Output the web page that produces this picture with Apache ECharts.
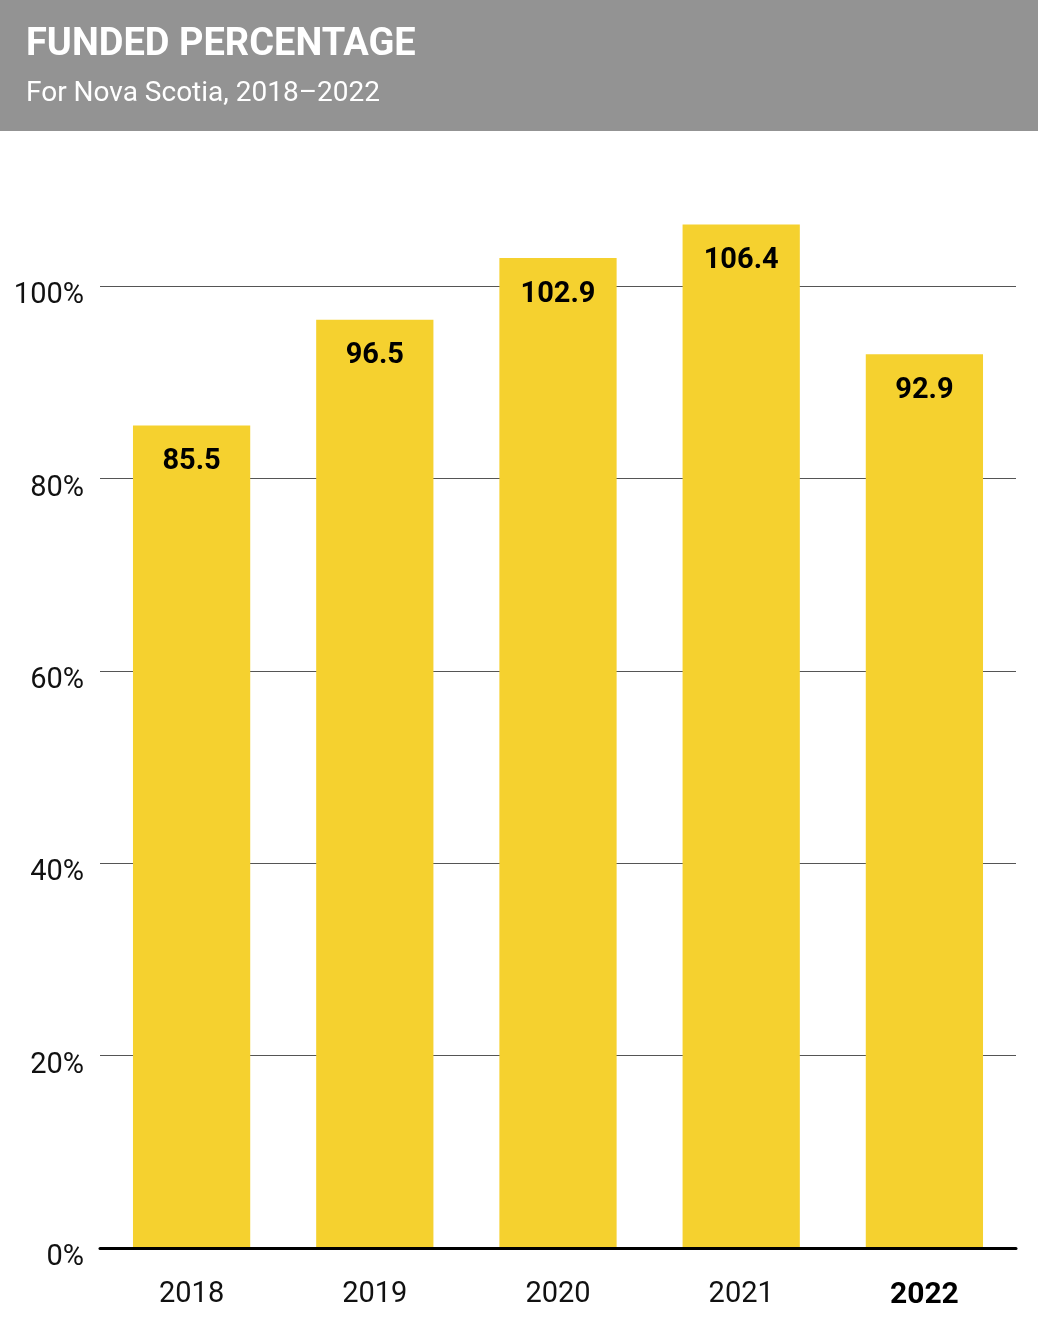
<!DOCTYPE html>
<html>
<head>
<meta charset="utf-8">
<style>
  html, body { margin: 0; padding: 0; background: #fff; }
  #chart { width: 1038px; height: 1318px; }
</style>
<script src="https://cdn.jsdelivr.net/npm/echarts@6/dist/echarts.min.js"></script>
</head>
<body>
<div id="chart"></div>
<script>
const categories = ['2018', '2019', '2020', '2021', '2022'];
const fundedValues = [85.5, 96.5, 102.9, 106.4, 92.9];
const yTicks = [0, 20, 40, 60, 80, 100];
const titleText = 'FUNDED PERCENTAGE';
const subtitleText = 'For Nova Scotia, 2018\u20132022';

const FONT = "'Roboto', 'Liberation Sans', sans-serif";
const chart = echarts.init(document.getElementById('chart'), null, { renderer: 'canvas' });

chart.setOption({
  animation: false,
  backgroundColor: '#ffffff',
  graphic: [
    { type: 'rect', z: 100, shape: { x: 0, y: 0, width: 1038, height: 131 }, style: { fill: '#939393' } },
    { type: 'text', z: 101, left: 26, top: 26, style: { text: titleText, fill: '#ffffff', font: "bold 38px 'Roboto', sans-serif" } },
    { type: 'text', z: 101, left: 26, top: 80, style: { text: subtitleText, fill: '#ffffff', font: "28px 'Roboto', sans-serif" } }
  ],
  grid: { left: 100, right: 22, top: 93.6, bottom: 70, containLabel: false },
  xAxis: {
    type: 'category',
    data: categories,
    z: 5,
    axisLine: { show: true, lineStyle: { color: '#000', width: 3 } },
    axisTick: { show: false },
    axisLabel: {
      margin: 32,
      color: '#111',
      fontSize: 29,
      fontFamily: 'Roboto',
      formatter: function (v, i) { return i === categories.length - 1 ? '{b|' + v + '}' : v; },
      rich: { b: { fontWeight: 'bold', fontSize: 30, color: '#000', fontFamily: 'Roboto' } }
    }
  },
  yAxis: {
    type: 'value',
    min: 0,
    max: 120,
    interval: 20,
    axisLine: { show: false },
    axisTick: { show: false },
    axisLabel: {
      margin: 16,
      color: '#111',
      fontSize: 29,
      fontFamily: 'Roboto',
      verticalAlign: 'top',
      lineHeight: 29,
      formatter: function (v) { return yTicks.indexOf(v) >= 0 ? '{a|' + v + '%}' : ''; },
      rich: { a: { fontSize: 29, fontFamily: 'Roboto', color: '#111', lineHeight: 29, padding: [-9, 0, 0, 0] } }
    },
    splitLine: { show: true, lineStyle: { color: '#555', width: 1.2 } }
  },
  series: [{
    type: 'bar',
    data: fundedValues,
    barWidth: '64%',
    itemStyle: { color: '#F5D12F' },
    label: {
      show: true,
      position: 'insideTop',
      distance: 22,
      color: '#000',
      fontSize: 29,
      fontWeight: 'bold',
      fontFamily: FONT,
      formatter: function (p) { return p.value.toFixed(1); }
    }
  }]
});
</script>
</body>
</html>
